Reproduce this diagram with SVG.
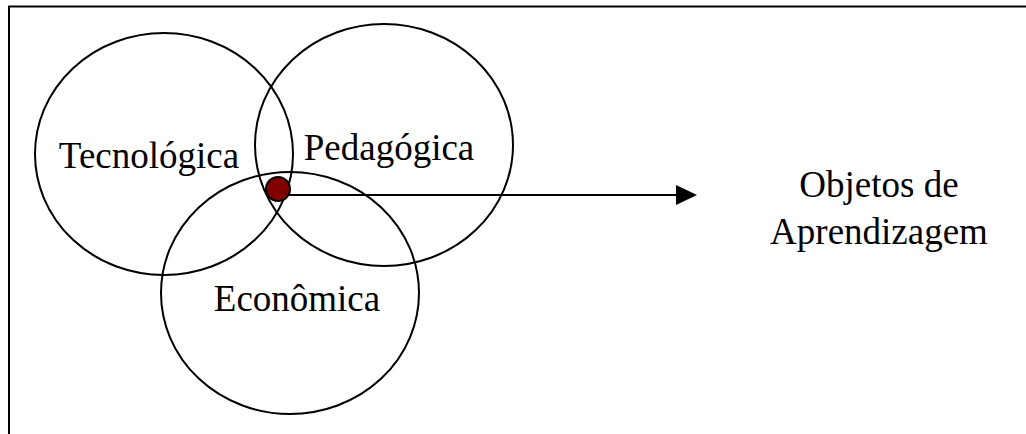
<svg xmlns="http://www.w3.org/2000/svg" width="1026" height="434" viewBox="0 0 1026 434">
<defs>
<style>
.c{fill:none;stroke:#000;stroke-width:2}
.t{font-family:"Liberation Serif","Times New Roman",serif;font-size:37px;fill:#000;text-anchor:middle}
</style>
<marker id="ah" markerWidth="22" markerHeight="20" refX="0" refY="10" orient="auto" markerUnits="userSpaceOnUse">
<path d="M0,0 L21,10 L0,20 Z" fill="#000"/>
</marker>
</defs>
<rect x="9" y="6.5" width="1040" height="450" fill="#fff" stroke="#000" stroke-width="2"/>
<g id="tecnologica">
<ellipse class="c" cx="164" cy="154" rx="129" ry="121"/>
<text class="t" x="149" y="168">Tecnológica</text>
</g>
<g id="pedagogica">
<ellipse class="c" cx="384" cy="145" rx="129" ry="121"/>
<text class="t" x="389" y="160">Pedagógica</text>
</g>
<g id="economica">
<ellipse class="c" cx="290" cy="293" rx="129" ry="121"/>
<text class="t" x="297" y="311">Econômica</text>
</g>
<g id="objetos">
<text class="t" x="879" y="197">Objetos de</text>
<text class="t" x="879" y="244">Aprendizagem</text>
</g>
<g id="connectors">
<line x1="278" y1="195" x2="676" y2="195" stroke="#000" stroke-width="2" marker-end="url(#ah)"/>
</g>
<g id="dot">
<circle cx="278" cy="189" r="12" fill="#800000" stroke="#000" stroke-width="2"/>
</g>
</svg>
